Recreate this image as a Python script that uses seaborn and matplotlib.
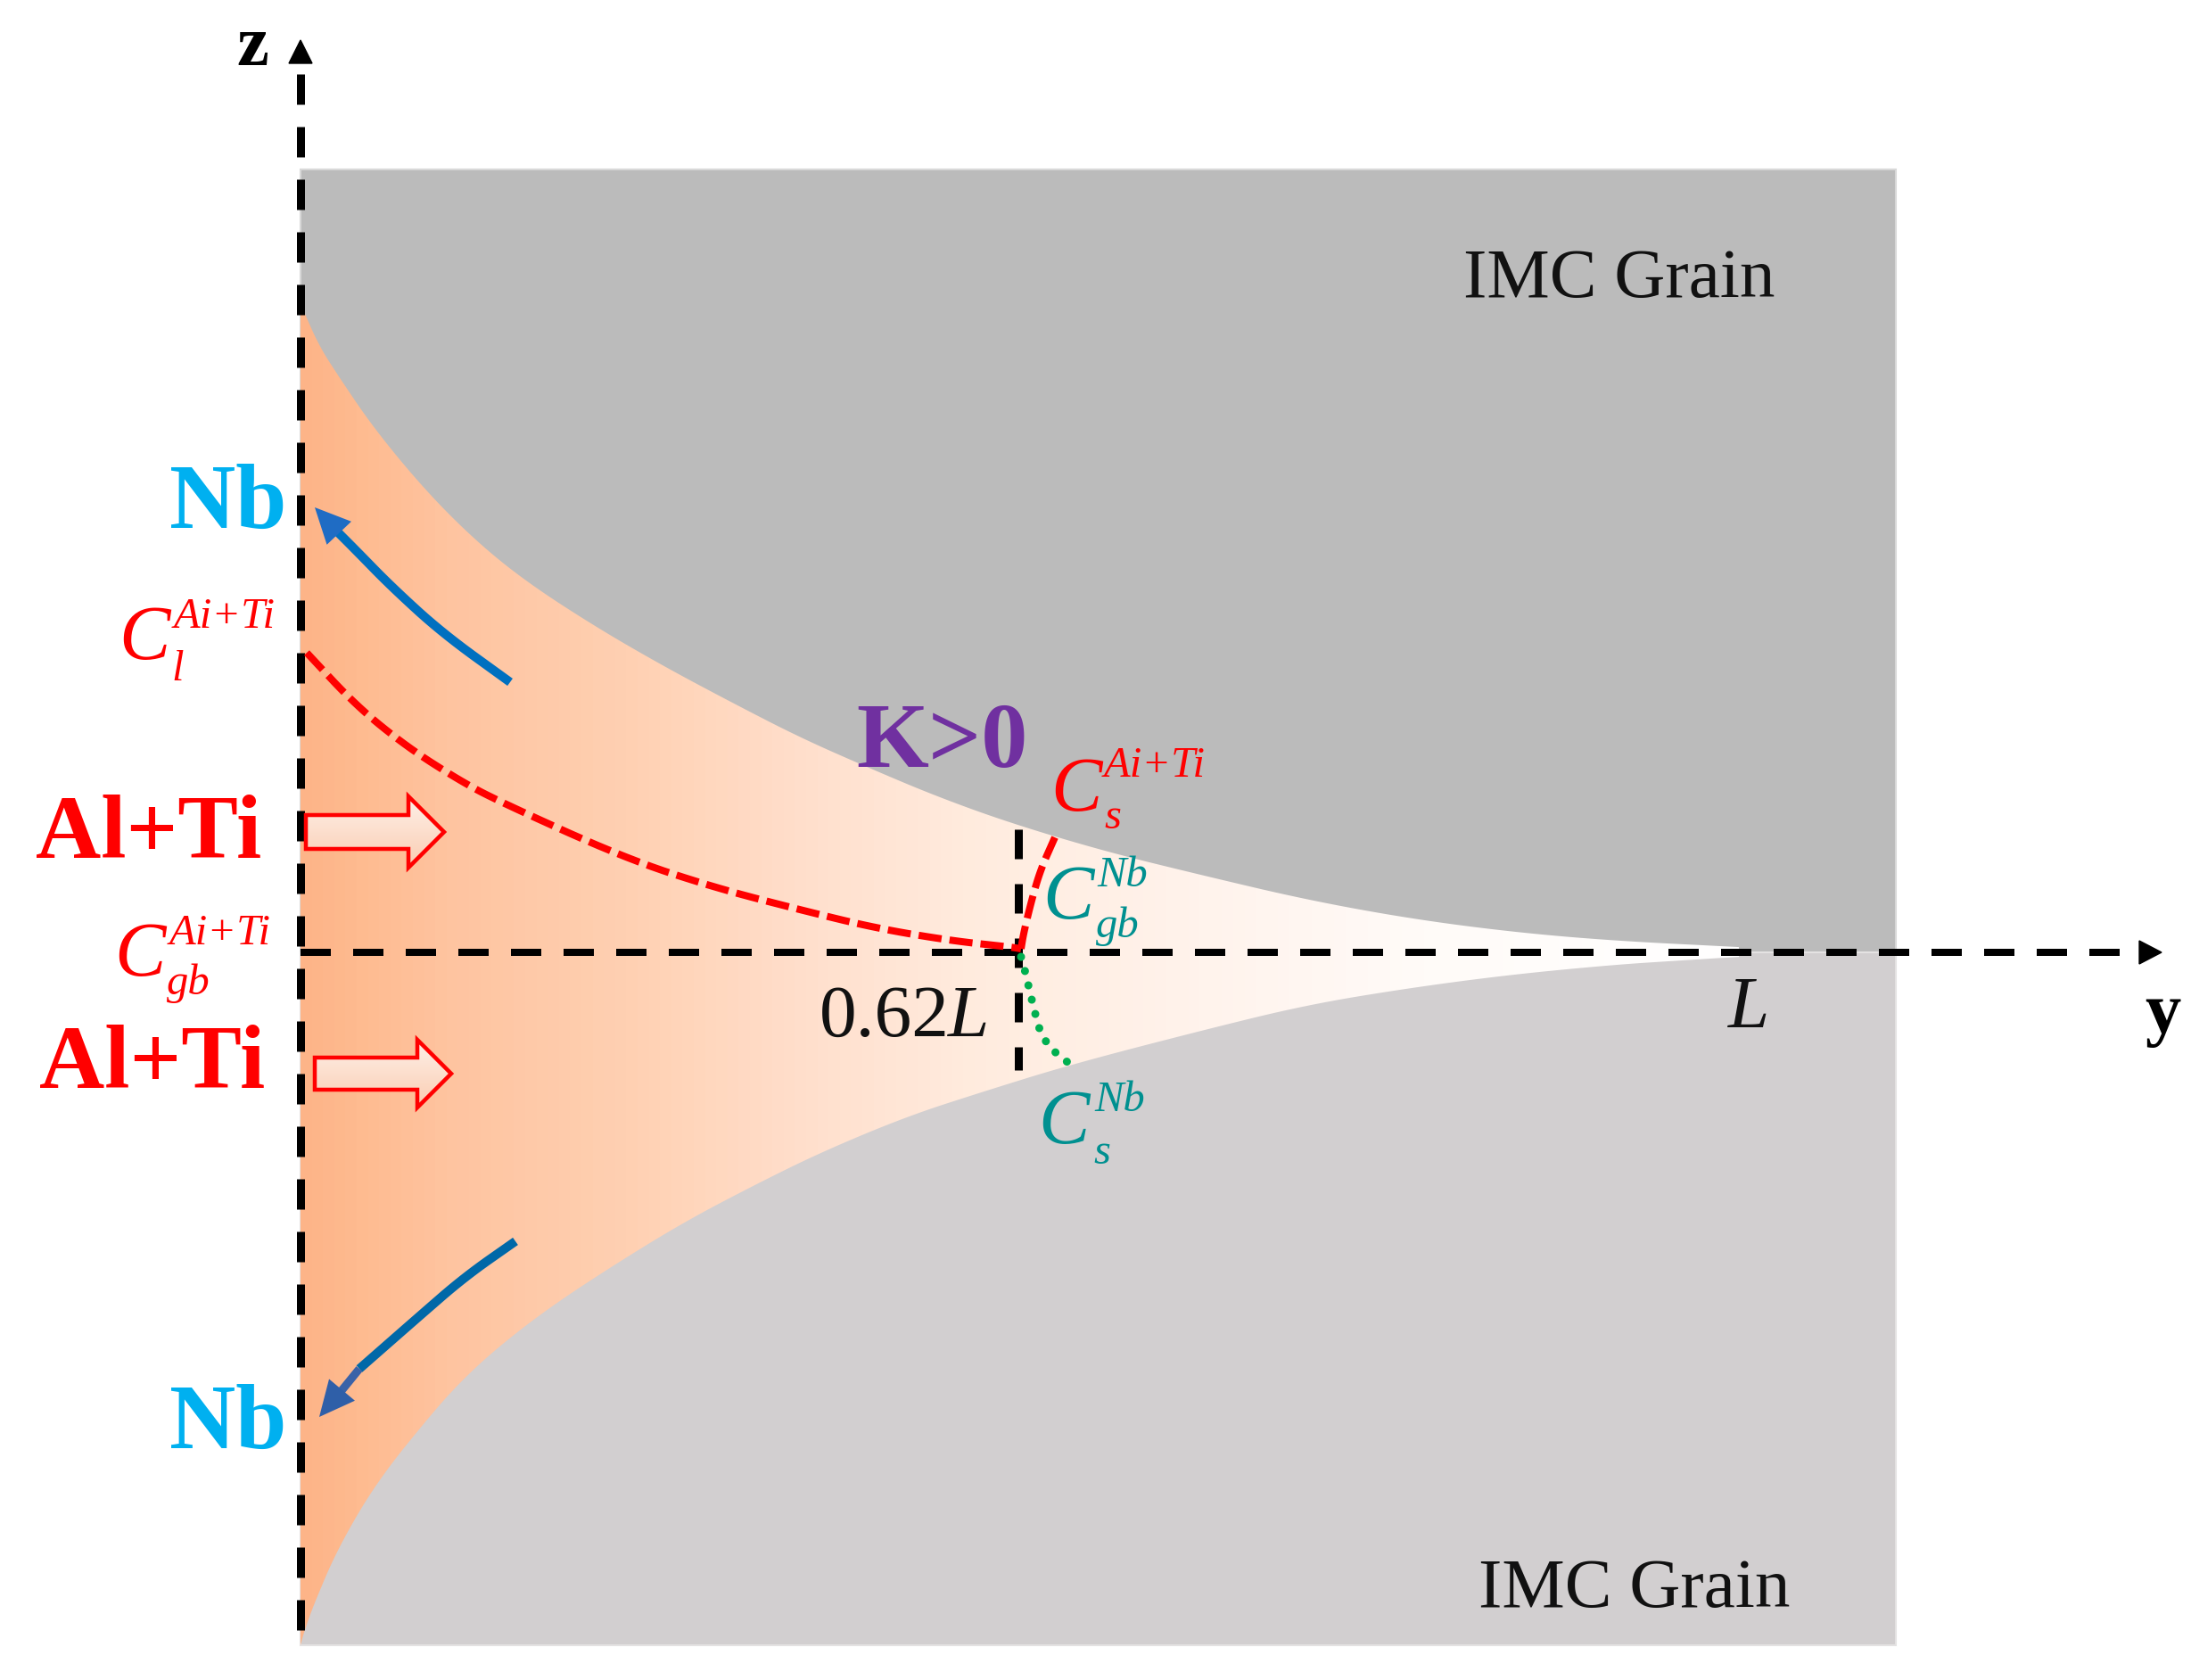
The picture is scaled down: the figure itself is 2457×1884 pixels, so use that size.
import matplotlib
matplotlib.use("Agg")
import numpy as np
import matplotlib.pyplot as plt
import seaborn as sns
from matplotlib.colors import LinearSegmentedColormap
from matplotlib.patches import Rectangle, Polygon, FancyArrow, FancyArrowPatch

y_axis_x = 337
z_zero = 1068
grain_right = 2126
grain_top = 190
grain_bottom = 1845

# grain boundaries
upper_x = [337, 341, 358, 379, 419, 477, 534, 591, 668, 744, 821, 897, 974, 1050, 1133, 1240,
           1350, 1465, 1580, 1694, 1809, 1950, 2060]
upper_y = [340, 350, 388, 421, 480, 550, 607, 653, 703, 747, 788, 827, 861, 893, 923, 955,
           982, 1009, 1030, 1045, 1055, 1062, 1068]
lower_x = [337, 341, 352, 379, 423, 486, 519, 557, 615, 691, 768, 844, 921, 1017, 1100, 1200,
           1350, 1465, 1580, 1694, 1809, 1886, 1950, 2060]
lower_y = [1845, 1830, 1799, 1736, 1661, 1583, 1547, 1512, 1467, 1417, 1370, 1330, 1292, 1252, 1225, 1194,
           1155, 1127, 1108, 1093, 1082, 1077, 1073, 1068]

# liquid gradient from the triple junction to the tip
grad_x = [337, 400, 500, 700, 900, 1100, 1350, 1600, 1950]
grad_colors = ["#FDB488", "#FEBB90", "#FEC4A0", "#FFD0B2", "#FFDFCC", "#FFECDF", "#FFF3EC", "#FFFBF8", "#FFFFFF"]

# concentration profiles
red_left_x = [344, 400, 457, 515, 558, 700, 800, 900, 983, 1067, 1133, 1145]
red_left_y = [732, 792, 838, 875, 898, 962, 995, 1021, 1041, 1055, 1062, 1064]
red_up_x = [1145, 1148, 1157, 1167, 1183]
red_up_y = [1064, 1046, 1009, 975, 939]
green_x = [1145, 1149, 1153, 1157, 1161, 1165, 1173, 1185, 1201]
green_y = [1073, 1087, 1104, 1121, 1137, 1153, 1169, 1182, 1194]

# Nb arrows
nb_up_x = [572, 496, 438, 400, 372]
nb_up_y = [765, 710, 657, 618, 590]
nb_down_x = [578, 521, 468, 403]
nb_down_y = [1392, 1432, 1478, 1535]

grain_upper_color = "#BBBBBB"
grain_lower_color = "#D2CFD0"
nb_color = "#00B0F0"
teal = "#009090"

sns.set_theme(style="white")
plt.rcParams["font.family"] = ["Liberation Serif", "DejaVu Serif"]
plt.rcParams["lines.scale_dashes"] = False


def px(v):
    return v * 0.72


def smooth(x, y, rounds=3):
    # corner cutting so the read-off points draw as a curve, ends stay put
    pts = np.column_stack([x, y]).astype(float)
    for _ in range(rounds):
        q = 0.75 * pts[:-1] + 0.25 * pts[1:]
        r = 0.25 * pts[:-1] + 0.75 * pts[1:]
        mid = np.empty((2 * len(q), 2))
        mid[0::2] = q
        mid[1::2] = r
        pts = np.vstack([pts[0], mid, pts[-1]])
    return pts[:, 0], pts[:, 1]


def draw_line(ax, x, y, color, width, dash=None, cap="butt", zorder=5):
    ls = "-" if dash is None else (0, (px(dash[0]), px(dash[1])))
    sns.lineplot(x=x, y=y, ax=ax, color=color, linewidth=px(width), linestyle=ls, sort=False,
                 estimator=None, errorbar=None, dash_capstyle=cap, solid_capstyle=cap, zorder=zorder)


def conc_label(ax, x, y, sup, sub, color, sup_xy, sub_xy):
    ax.text(x - 4, y, "C", color=color, fontsize=62, style="italic", zorder=7)
    ax.text(sup_xy[0], sup_xy[1], sup, color=color, fontsize=35, style="italic", zorder=7)
    ax.text(sub_xy[0] + 6, sub_xy[1], sub, color=color, fontsize=35, style="italic", zorder=7)


def hollow_arrow(ax, x0, x1, y, head_x, body_h, head_h):
    arrow = FancyArrow(x0, y, x1 - x0, 0, width=2 * body_h, head_width=2 * head_h, head_length=x1 - head_x,
                       length_includes_head=True, facecolor="none", edgecolor="#FF0000", linewidth=px(4.5), zorder=6)
    ax.add_patch(arrow)
    cm = LinearSegmentedColormap.from_list("fill", ["#FDF0E8", "#FBCDB2"])
    im = ax.imshow(np.linspace(0, 1, 64)[:, None], cmap=cm, aspect="auto", zorder=5,
                   extent=[x0, x1, y + head_h, y - head_h])
    im.set_clip_path(arrow)


fig = plt.figure(figsize=(24.57, 18.84), dpi=100)
ax = fig.add_axes([0, 0, 1, 1])
ax.set_xlim(0, 2457)
ax.set_ylim(1884, 0)
ax.axis("off")

# the two grains
ax.add_patch(Rectangle((y_axis_x, grain_top), grain_right - y_axis_x, z_zero - grain_top,
                       facecolor=grain_upper_color, edgecolor="#D8D8D8", linewidth=1.5, zorder=1))
ax.add_patch(Rectangle((y_axis_x, z_zero), grain_right - y_axis_x, grain_bottom - z_zero,
                       facecolor=grain_lower_color, edgecolor="#E4E2E2", linewidth=1.5, zorder=1))

# liquid channel, gradient clipped to the boundaries
stops = [(g - grad_x[0]) / (grad_x[-1] - grad_x[0]) for g in grad_x]
liquid_cmap = LinearSegmentedColormap.from_list("liquid", list(zip(stops, grad_colors)), N=128)
top_edge = np.column_stack(smooth(upper_x, upper_y))
bottom_edge = np.column_stack(smooth(lower_x, lower_y))
channel = Polygon(np.vstack([top_edge, bottom_edge[::-1]]),
                  transform=ax.transData, facecolor="none", edgecolor="none")
ax.add_patch(channel)
im = ax.imshow(np.linspace(0, 1, 512)[None, :], cmap=liquid_cmap, aspect="auto", zorder=2,
               extent=[grad_x[0], grad_x[-1], grain_bottom, upper_y[0]])
im.set_clip_path(channel)

# dashed axes
draw_line(ax, [y_axis_x, y_axis_x], [83, 1829], "black", 9, dash=(34, 25))
draw_line(ax, [y_axis_x, 2378], [z_zero, z_zero], "black", 8, dash=(34, 25))
draw_line(ax, [1142, 1142], [930, 1200], "black", 9, dash=(33, 28))
ax.fill([2399, 2424, 2399], [z_zero - 13, z_zero, z_zero + 13], color="black", zorder=5)
ax.fill([y_axis_x - 13, y_axis_x, y_axis_x + 13], [71, 45, 71], color="black", zorder=5)

# profiles
rx, ry = smooth(red_left_x, red_left_y)
draw_line(ax, rx, ry, "#FF0000", 8, dash=(26, 9), zorder=6)
rx, ry = smooth(red_up_x, red_up_y)
draw_line(ax, rx, ry, "#FF0000", 8, dash=(26, 9), zorder=6)
gx, gy = smooth(green_x, green_y)
draw_line(ax, gx, gy, "#00B050", 9, dash=(0.1, 16.4), cap="round", zorder=6)

# Nb flux
bx, by = smooth(nb_up_x, nb_up_y)
draw_line(ax, bx, by, "#0070C0", 10)
ax.add_patch(FancyArrowPatch((388, 606), (353, 569), arrowstyle="-|>,head_length=0.42,head_width=0.2",
                             mutation_scale=68, color="#1F6CC4", linewidth=0, shrinkA=0, shrinkB=0, zorder=6))
bx, by = smooth(nb_down_x, nb_down_y)
draw_line(ax, bx, by, "#0068A8", 10)
draw_line(ax, [403, 381], [1535, 1562], "#3A62A8", 9)
ax.add_patch(FancyArrowPatch((384, 1558), (358, 1589), arrowstyle="-|>,head_length=0.42,head_width=0.2",
                             mutation_scale=68, color="#2F5FA8", linewidth=0, shrinkA=0, shrinkB=0, zorder=6))

# flux arrows
hollow_arrow(ax, 343, 498, 933, 458, 19, 40)
hollow_arrow(ax, 353, 506, 1204, 468, 18, 38)

# labels
ax.text(1641, 333, "IMC Grain", color="#111111", fontsize=57, zorder=7)
ax.text(1658, 1802, "IMC Grain", color="#111111", fontsize=57, zorder=7)
ax.text(190, 592, "Nb", color=nb_color, fontsize=74, fontweight="bold", zorder=7)
ax.text(190, 1624, "Nb", color=nb_color, fontsize=74, fontweight="bold", zorder=7)
ax.text(40, 962, "Al+Ti", color="#FF0000", fontsize=73, fontweight="bold", zorder=7)
ax.text(44, 1220, "Al+Ti", color="#FF0000", fontsize=73, fontweight="bold", zorder=7)
ax.text(960, 860, "K>0", color="#7030A0", fontsize=75, fontweight="bold", zorder=7)
ax.text(919, 1162, "0.62", color="#111111", fontsize=60, zorder=7)
ax.text(1063, 1162, "L", color="#111111", fontsize=60, style="italic", zorder=7)
ax.text(1938, 1152, "L", color="#111111", fontsize=60, style="italic", zorder=7)
ax.text(2405, 1158, "y", color="black", fontsize=58, fontweight="bold", zorder=7)
ax.text(265, 73, "z", color="black", fontsize=58, fontweight="bold", zorder=7)

conc_label(ax, 137, 739, "Ai+Ti", "l", "#FF0000", (195, 704), (186, 763))
conc_label(ax, 132, 1094, "Ai+Ti", "gb", "#FF0000", (190, 1059), (181, 1115))
conc_label(ax, 1182, 909, "Ai+Ti", "s", "#FF0000", (1238, 871), (1232, 929))
conc_label(ax, 1173, 1030, "Nb", "gb", teal, (1230, 994), (1223, 1051))
conc_label(ax, 1168, 1282, "Nb", "s", teal, (1227, 1246), (1220, 1305))

ax.set_xlim(0, 2457)
ax.set_ylim(1884, 0)

plt.savefig("out.png", dpi=100, facecolor="white")
plt.close()
